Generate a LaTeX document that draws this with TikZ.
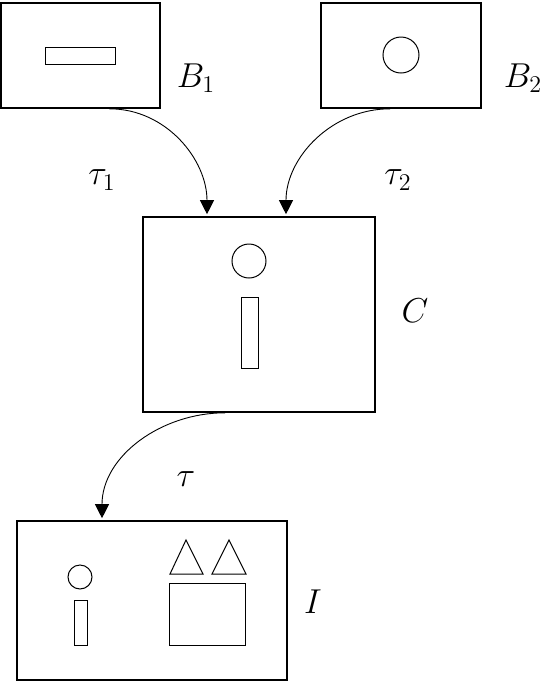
\documentclass[tikz,border=0pt]{standalone}
\usepackage{amsmath,amssymb}
\usepackage{tikz}
\usetikzlibrary{arrows.meta,calc,positioning}

\begin{document}
\begin{tikzpicture}[x=0.5pt,y=-0.5pt]
    \tikzstyle{frame}=[draw,line width=0.8pt,inner sep=0pt]
    \tikzstyle{piece}=[draw,line width=0.5pt]
    \tikzstyle{arr}=[-{Triangle[length=7pt,width=7pt]},line width=0.45pt,shorten >=1pt]
    \tikzstyle{lbl}=[font=\fontsize{18}{20}\selectfont]

    \useasboundingbox (0,0) rectangle (552,682);

    % Draw the frames
    \node[frame,minimum width=79.5pt,minimum height=52.5pt] (B1) at (80.5,55.5) {};
    \node[frame,minimum width=80pt,minimum height=52.5pt] (B2) at (401,55.5) {};
    \node[frame,minimum width=116pt,minimum height=97.5pt] (C) at (259,314.5) {};
    \node[frame,minimum width=135pt,minimum height=79.5pt] (I) at (152,600.5) {};

    % Contents of the frames
    \draw[piece] (45,47) rectangle (115,64);
    \draw[piece] (401,55) circle (9pt);
    \draw[piece] (249,261) circle (8.5pt);
    \draw[piece] (241,297) rectangle (258,368);
    \draw[piece] (80,577) circle (6pt);
    \draw[piece] (74,600) rectangle (87,645);
    \draw[piece] (169,583) rectangle (245,645);
    \draw[piece] (170,574) -- (186,540) -- (203,574) -- cycle;
    \draw[piece] (212,574) -- (229,540) -- (246,574) -- cycle;

    % Labels of the frames
    \node[lbl] (lB1) at (196,78) {$B_1$};
    \node[lbl] (lB2) at (523,78) {$B_2$};
    \node[lbl] (lC) at (415,311) {$C$};
    \node[lbl] (lI) at (313,602) {$I$};

    % Connect the frames
    \draw[arr] ($(B1.south)+(29,0)$) to[out=0,in=90] ($(C.north)+(-52,0)$);
    \draw[arr] ($(B2.south)+(-11,0)$) to[out=180,in=90] ($(C.north)+(27,0)$);
    \draw[arr] ($(C.south)+(-34,0)$) to[out=180,in=90] ($(I.north)+(-50,0)$);

    % Annotate the maps
    \node[lbl] (t1) at (102,180) {$\tau_1$};
    \node[lbl] (t2) at (398,180) {$\tau_2$};
    \node[lbl] (t) at (186,479) {$\tau$};

\end{tikzpicture}
\end{document}
